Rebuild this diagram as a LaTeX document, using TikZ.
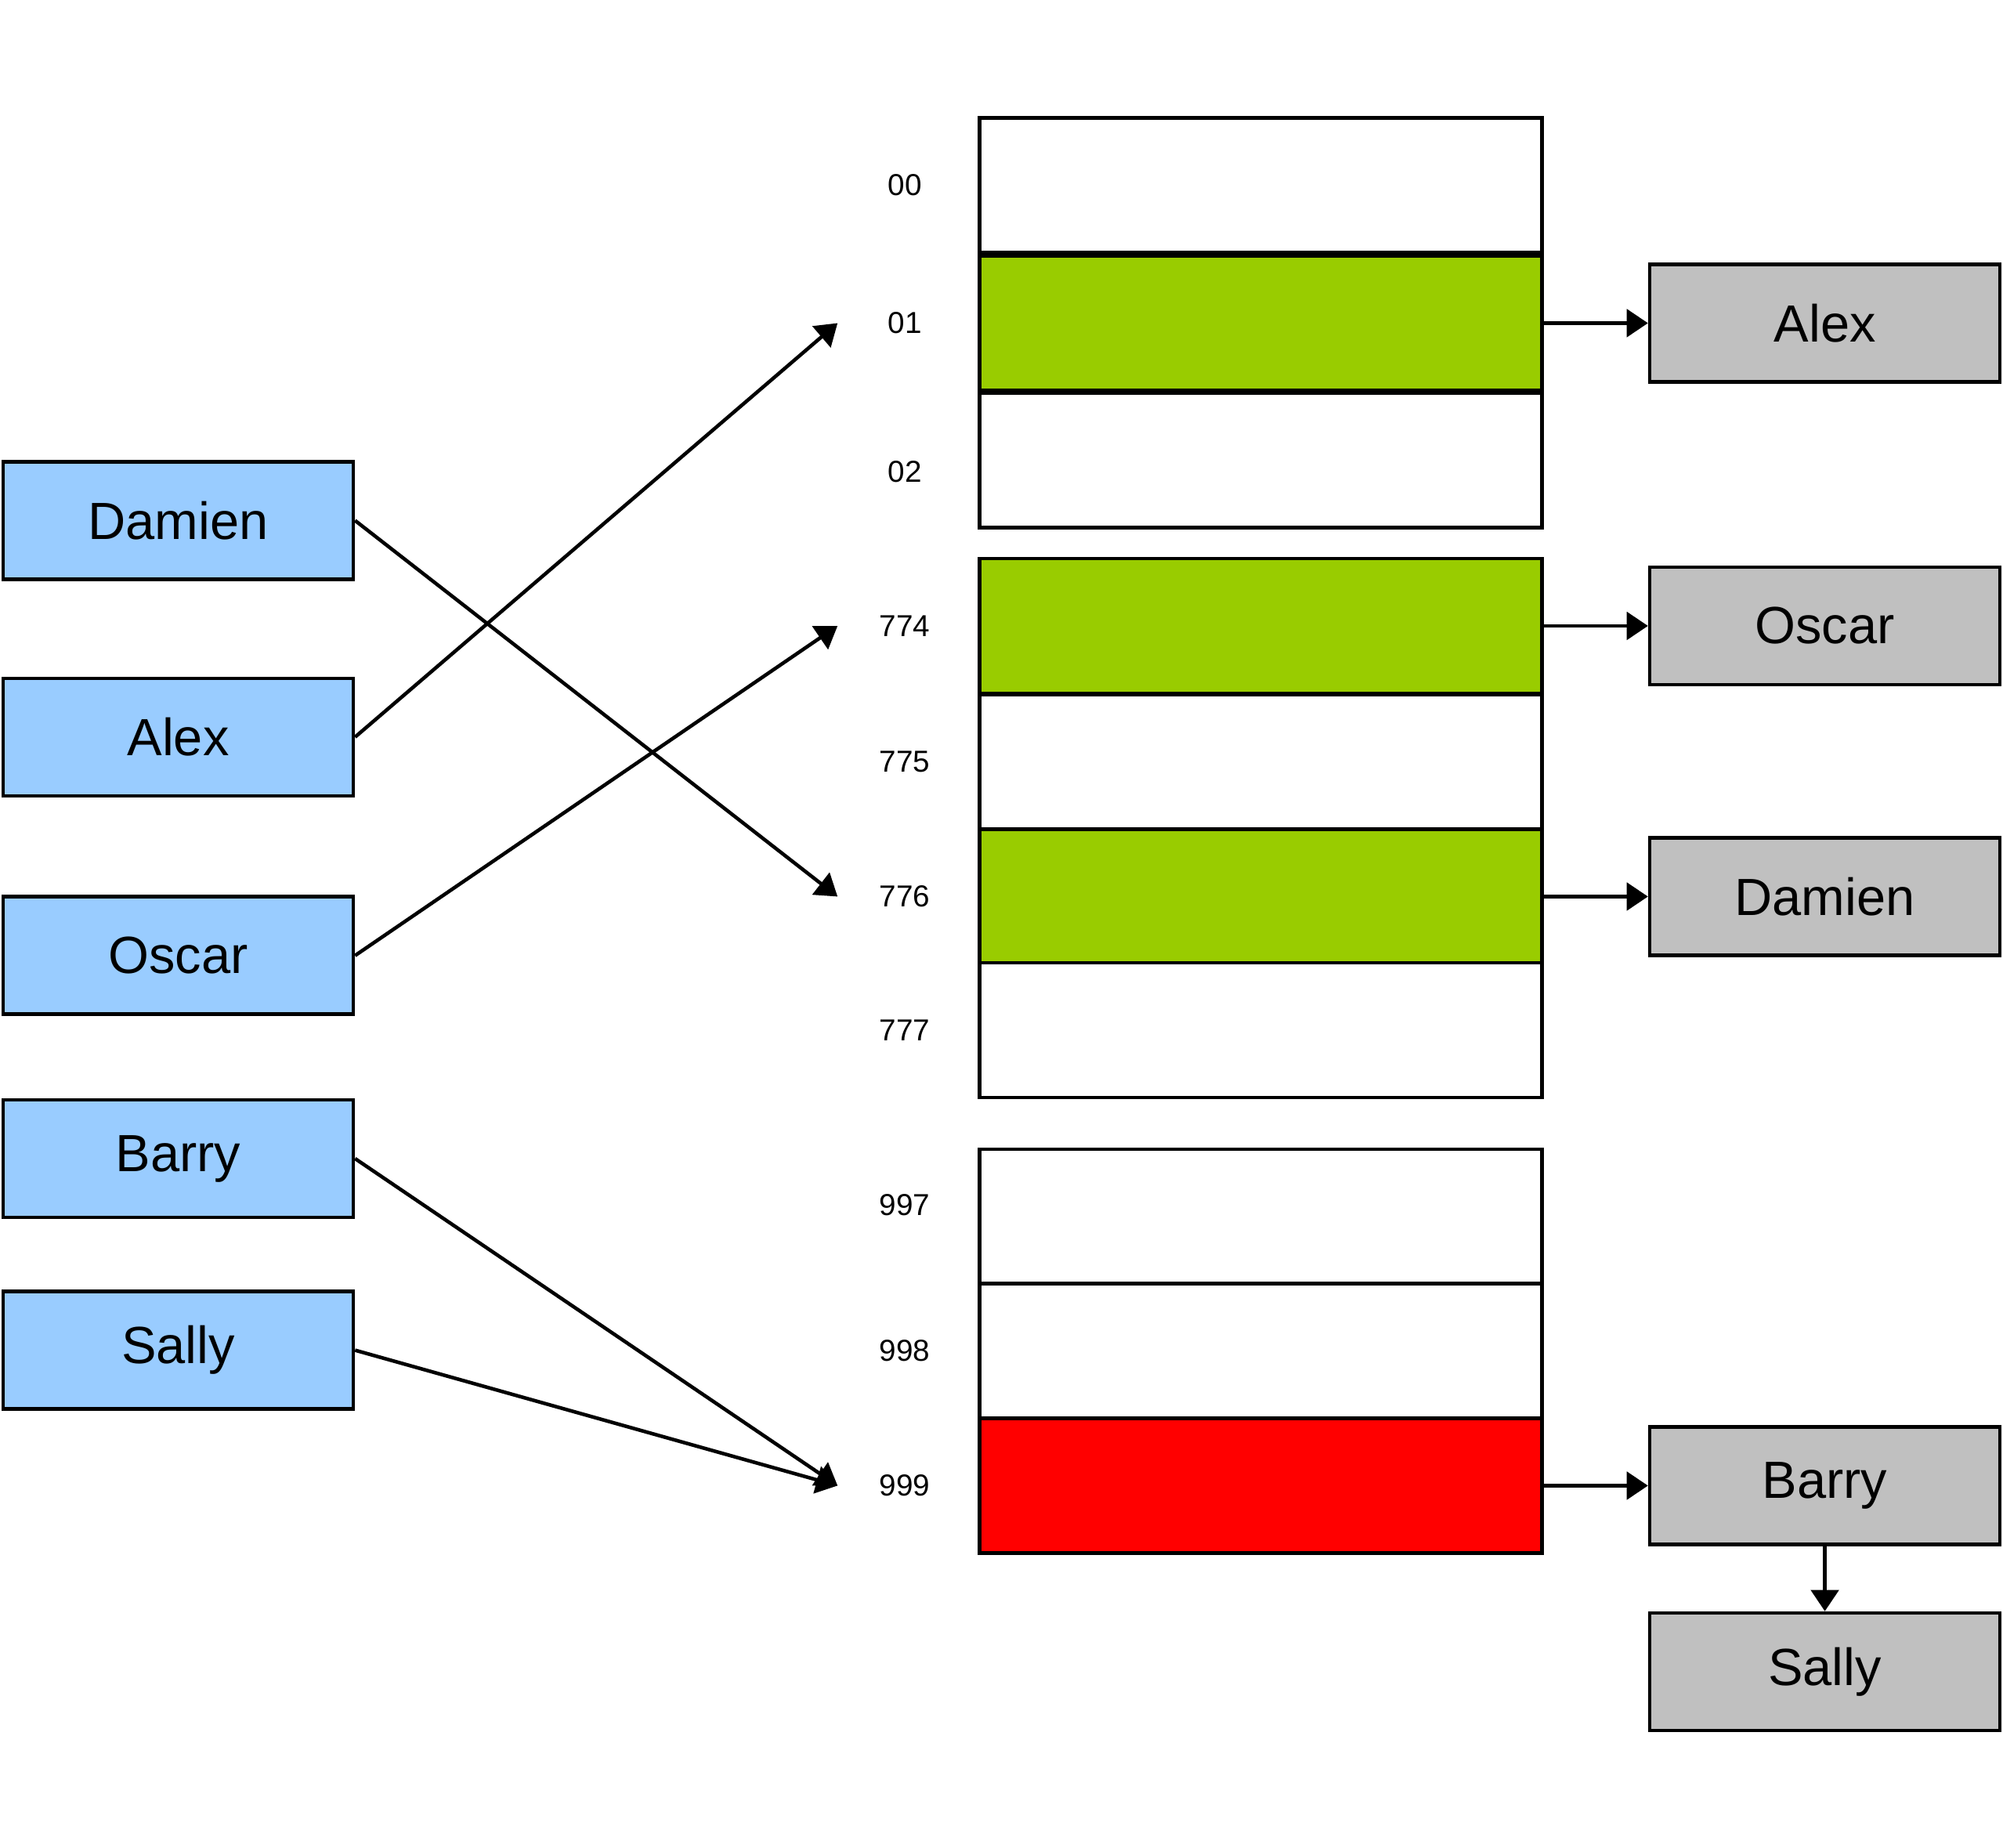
\documentclass[tikz,border=0pt]{standalone}
\usepackage{fontspec}
\setmainfont{Liberation Sans}
\usepackage{tikz}
\usetikzlibrary{positioning}
\usetikzlibrary{arrows.meta}
\tikzset{>={Triangle[length=7.7pt,width=10pt]}}
\definecolor{keyblue}{HTML}{99CCFF}
\definecolor{slotgreen}{HTML}{99CC00}
\definecolor{slotred}{HTML}{FF0000}
\definecolor{entrygray}{HTML}{C0C0C0}
\tikzset{
  key/.style={draw, line width=1.3pt, fill=keyblue, minimum width=4.47cm, minimum height=1.5cm, inner sep=0pt, font=\fontsize{19}{19}\selectfont},
  entry/.style={key, fill=entrygray},
  slot/.style={draw, line width=1.3pt, minimum width=7.18cm, minimum height=1.72cm, inner sep=0pt},
  idx/.style={font=\fontsize{11}{11}\selectfont},
  link/.style={->, line width=1.3pt}
}

\begin{document}
\begin{tikzpicture}
  \useasboundingbox (0,0) rectangle (25.57,23.59);
  \node[key] (kDamien) at (2.275,16.945) {Damien};
  \node[key] (kAlex) at (2.275,14.181) {Alex};
  \node[key] (kOscar) at (2.275,11.392) {Oscar};
  \node[key] (kBarry) at (2.275,8.80) {Barry};
  \node[key] (kSally) at (2.275,6.354) {Sally};
  \foreach \n/\py/\dy/\col in {00/236.5/0/white, 01/412.5/0/slotgreen, 02/587.5/-0.15/white,
      774/799/0/slotgreen, 775/972.5/0/white, 776/1144.5/0/slotgreen, 777/1315/0/white,
      997/1553/0.15/white, 998/1724.5/0/white, 999/1896.5/0/slotred} {
    \node[slot, fill=\col] (c\n) at (16.095,{23.59-\py/100}) {};
    \node[idx] (l\n) at ([xshift=-0.93cm,yshift=\dy cm]c\n.west) {\n};
    \coordinate (in\n) at ([xshift=-1.79cm]c\n.west);
  }
  \node[entry, right=1.33cm of c01] (eAlex) {Alex};
  \node[entry, right=1.33cm of c774] (eOscar) {Oscar};
  \node[entry, right=1.33cm of c776] (eDamien) {Damien};
  \node[entry, right=1.33cm of c999] (eBarry) {Barry};
  \node[entry, below=0.83cm of eBarry] (eSally) {Sally};
  \draw[link] (kDamien.east) -- (in776);
  \draw[link] (kAlex.east) -- (in01);
  \draw[link] (kOscar.east) -- (in774);
  \draw[link] (kBarry.east) -- (in999);
  \draw[link] (kSally.east) -- (in999);
  \draw[link] (c01) -- (eAlex);
  \draw[link] (c774) -- (eOscar);
  \draw[link] (c776) -- (eDamien);
  \draw[link] (c999) -- (eBarry);
  \draw[link] (eBarry) -- (eSally);
\end{tikzpicture}
\end{document}
